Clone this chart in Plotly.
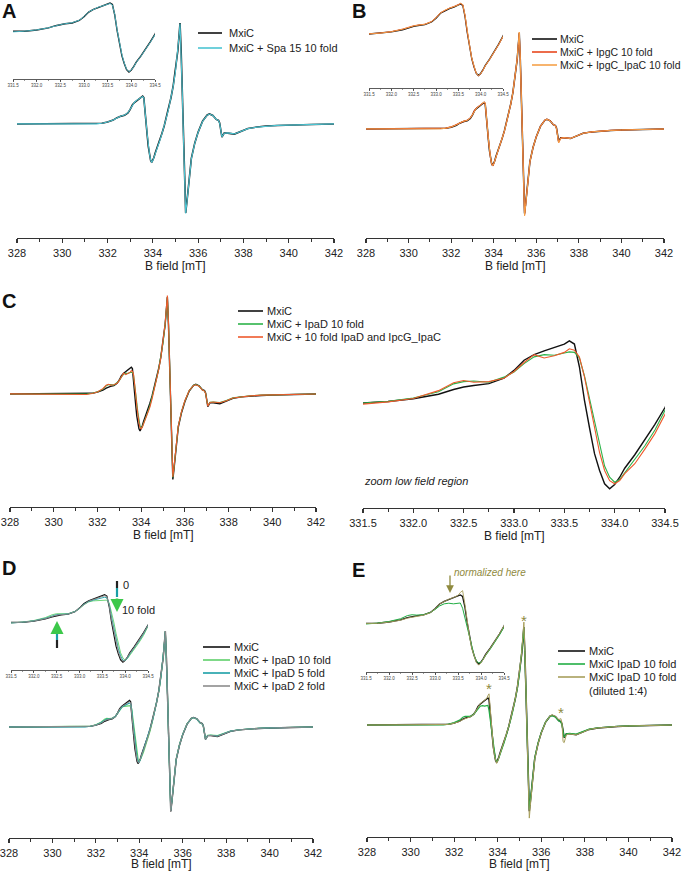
import plotly.graph_objects as go

W, H = 683, 872
FONT = "Liberation Sans, Arial, sans-serif"

# ---------------- data (normalised EPR derivative intensity) ----------------
b_field = [328.0, 329.0, 330.0, 330.5, 331.0,
           331.5, 331.75, 332.0, 332.25, 332.4, 332.5, 332.6, 332.75, 332.9, 333.0, 333.1, 333.2, 333.3, 333.4, 333.5,
           333.55, 333.6, 333.65, 333.7, 333.75, 333.8, 333.85, 333.9, 333.95, 334.0, 334.05, 334.1, 334.2, 334.3, 334.4, 334.5,
           334.6, 334.7, 334.8, 334.9, 335.0, 335.1, 335.15, 335.2, 335.25, 335.3, 335.35, 335.4, 335.45, 335.5, 335.6, 335.7, 335.85, 336.0, 336.2, 336.4, 336.5,
           336.65, 336.8, 336.9, 336.95, 337.0, 337.05, 337.15, 337.3, 337.6, 337.9, 338.2, 338.6, 339.0, 339.5, 340.0, 341.0, 342.0]

mxic = [0.0, 0.002, 0.0, 0.001, 0.002,
        0.0, 0.007, 0.019, 0.039, 0.060, 0.071, 0.078, 0.086, 0.110, 0.145, 0.190, 0.215, 0.232, 0.246, 0.262,
        0.276, 0.262, 0.160, 0.012, -0.110, -0.225, -0.300, -0.359, -0.381, -0.362, -0.330, -0.290, -0.230, -0.165, -0.095, -0.020,
        0.070, 0.160, 0.260, 0.380, 0.530, 0.720, 0.860, 1.000, 0.720, 0.330, -0.120, -0.580, -0.880, -0.780, -0.520, -0.340, -0.190, -0.080, 0.030, 0.090, 0.100,
        0.085, 0.045, 0.035, 0.010, -0.090, -0.130, -0.090, -0.090, -0.100, -0.075, -0.045, -0.030, -0.020, -0.015, -0.010, -0.005, 0.0]

# A
spa15_10 = [0.001, 0.0, 0.002, 0.0, 0.001,
            0.001, 0.008, 0.020, 0.040, 0.061, 0.070, 0.079, 0.088, 0.112, 0.147, 0.192, 0.218, 0.236, 0.250, 0.265,
            0.272, 0.258, 0.165, 0.020, -0.100, -0.215, -0.295, -0.355, -0.378, -0.362, -0.332, -0.292, -0.232, -0.168, -0.098, -0.025,
            0.065, 0.155, 0.255, 0.375, 0.525, 0.715, 0.855, 0.995, 0.715, 0.325, -0.125, -0.585, -0.885, -0.785, -0.525, -0.345, -0.192, -0.082, 0.028, 0.088, 0.098,
            0.084, 0.046, 0.034, 0.008, -0.092, -0.128, -0.092, -0.088, -0.098, -0.074, -0.046, -0.031, -0.021, -0.014, -0.011, -0.004, 0.001]

# B
ipgc_10 = [0.0, 0.001, 0.002, 0.0, 0.001,
           0.002, 0.009, 0.022, 0.045, 0.066, 0.076, 0.082, 0.090, 0.115, 0.150, 0.195, 0.220, 0.238, 0.252, 0.268,
           0.280, 0.268, 0.170, 0.020, -0.105, -0.222, -0.300, -0.360, -0.384, -0.366, -0.334, -0.294, -0.234, -0.170, -0.100, -0.024,
           0.066, 0.158, 0.258, 0.378, 0.530, 0.722, 0.865, 1.005, 0.725, 0.330, -0.125, -0.590, -0.895, -0.790, -0.525, -0.342, -0.190, -0.080, 0.030, 0.092, 0.102,
           0.086, 0.046, 0.036, 0.005, -0.100, -0.142, -0.095, -0.090, -0.098, -0.073, -0.044, -0.030, -0.020, -0.014, -0.010, -0.004, 0.0]
ipgc_ipac_10 = [0.001, 0.0, 0.001, 0.002, 0.0,
                0.001, 0.008, 0.021, 0.043, 0.064, 0.074, 0.081, 0.089, 0.113, 0.148, 0.193, 0.219, 0.236, 0.251, 0.266,
                0.282, 0.270, 0.172, 0.022, -0.102, -0.220, -0.298, -0.358, -0.382, -0.365, -0.333, -0.293, -0.233, -0.169, -0.099, -0.023,
                0.067, 0.159, 0.259, 0.379, 0.532, 0.725, 0.868, 1.010, 0.728, 0.332, -0.126, -0.595, -0.905, -0.795, -0.528, -0.343, -0.191, -0.081, 0.029, 0.091, 0.101,
                0.085, 0.045, 0.035, 0.004, -0.102, -0.145, -0.096, -0.090, -0.099, -0.074, -0.045, -0.030, -0.020, -0.015, -0.010, -0.005, 0.0]

# C
ipad_10 = [0.0, 0.001, 0.0, 0.002, 0.001,
           0.0, 0.008, 0.022, 0.050, 0.085, 0.095, 0.098, 0.092, 0.115, 0.138, 0.175, 0.205, 0.215, 0.212, 0.222,
           0.227, 0.225, 0.200, 0.120, 0.020, -0.090, -0.190, -0.280, -0.330, -0.352, -0.340, -0.310, -0.255, -0.190, -0.120, -0.035,
           0.055, 0.150, 0.255, 0.375, 0.525, 0.720, 0.865, 1.000, 0.730, 0.345, -0.100, -0.560, -0.860, -0.765, -0.510, -0.330, -0.180, -0.072, 0.035, 0.090, 0.097,
           0.082, 0.042, 0.030, 0.008, -0.085, -0.122, -0.085, -0.082, -0.088, -0.068, -0.040, -0.028, -0.018, -0.012, -0.008, -0.004, 0.0]
ipad_ipgc_ipac_10 = [0.001, 0.0, 0.002, 0.0, 0.001,
                     -0.005, 0.005, 0.020, 0.055, 0.090, 0.100, 0.092, 0.095, 0.110, 0.140, 0.180, 0.215, 0.200, 0.210, 0.225,
                     0.241, 0.235, 0.204, 0.116, 0.000, -0.120, -0.220, -0.300, -0.345, -0.359, -0.345, -0.314, -0.270, -0.205, -0.136, -0.050,
                     0.045, 0.140, 0.248, 0.372, 0.528, 0.728, 0.875, 1.015, 0.740, 0.350, -0.095, -0.555, -0.855, -0.760, -0.505, -0.328, -0.178, -0.070, 0.036, 0.088, 0.095,
                     0.080, 0.040, 0.030, 0.006, -0.088, -0.125, -0.088, -0.083, -0.090, -0.070, -0.042, -0.028, -0.019, -0.012, -0.009, -0.004, 0.0]

# D
d_ipad_10 = [0.0, 0.002, 0.001, 0.0, 0.002,
             0.001, 0.009, 0.024, 0.052, 0.080, 0.090, 0.088, 0.090, 0.112, 0.140, 0.178, 0.205, 0.215, 0.218, 0.224,
             0.226, 0.222, 0.195, 0.110, 0.010, -0.100, -0.200, -0.290, -0.340, -0.362, -0.345, -0.315, -0.258, -0.192, -0.122, -0.040,
             0.052, 0.148, 0.252, 0.372, 0.522, 0.715, 0.860, 0.995, 0.725, 0.342, -0.105, -0.565, -0.865, -0.768, -0.512, -0.332, -0.182, -0.074, 0.034, 0.089, 0.096,
             0.081, 0.042, 0.030, 0.006, -0.086, -0.124, -0.086, -0.083, -0.089, -0.069, -0.041, -0.028, -0.018, -0.013, -0.008, -0.004, 0.0]
d_ipad_5 = [0.001, 0.0, 0.001, 0.002, 0.0,
            0.0, 0.008, 0.021, 0.046, 0.072, 0.082, 0.084, 0.088, 0.111, 0.142, 0.183, 0.208, 0.222, 0.232, 0.242,
            0.250, 0.244, 0.182, 0.060, -0.050, -0.165, -0.250, -0.320, -0.362, -0.365, -0.340, -0.303, -0.243, -0.178, -0.108, -0.030,
            0.060, 0.153, 0.256, 0.377, 0.527, 0.718, 0.860, 0.998, 0.722, 0.336, -0.112, -0.572, -0.872, -0.773, -0.516, -0.336, -0.186, -0.077, 0.032, 0.089, 0.098,
            0.083, 0.043, 0.032, 0.008, -0.088, -0.127, -0.088, -0.086, -0.094, -0.072, -0.043, -0.029, -0.019, -0.014, -0.009, -0.005, 0.0]
d_ipad_2 = [0.0, 0.001, 0.0, 0.001, 0.002,
            0.0, 0.008, 0.020, 0.042, 0.066, 0.077, 0.081, 0.087, 0.110, 0.144, 0.187, 0.212, 0.228, 0.240, 0.254,
            0.265, 0.254, 0.172, 0.035, -0.080, -0.195, -0.275, -0.340, -0.372, -0.363, -0.335, -0.296, -0.236, -0.171, -0.101, -0.025,
            0.065, 0.157, 0.258, 0.379, 0.529, 0.719, 0.860, 0.999, 0.721, 0.333, -0.116, -0.576, -0.876, -0.777, -0.518, -0.338, -0.188, -0.079, 0.031, 0.090, 0.099,
            0.084, 0.044, 0.033, 0.009, -0.089, -0.128, -0.089, -0.088, -0.097, -0.073, -0.044, -0.030, -0.020, -0.014, -0.010, -0.005, 0.0]

# E
e_ipad_10 = [0.0, 0.001, 0.002, 0.0, 0.001,
             0.0, 0.009, 0.024, 0.050, 0.080, 0.088, 0.085, 0.088, 0.110, 0.138, 0.172, 0.192, 0.198, 0.192, 0.198,
             0.200, 0.150, 0.060, -0.040, -0.140, -0.230, -0.300, -0.350, -0.372, -0.366, -0.338, -0.300, -0.240, -0.176, -0.106, -0.030,
             0.058, 0.150, 0.252, 0.372, 0.525, 0.718, 0.862, 0.995, 0.718, 0.330, -0.115, -0.570, -0.865, -0.770, -0.515, -0.335, -0.185, -0.075, 0.032, 0.088, 0.096,
             0.080, 0.042, 0.028, 0.002, -0.090, -0.125, -0.090, -0.086, -0.092, -0.070, -0.042, -0.028, -0.019, -0.013, -0.009, -0.004, 0.0]
e_ipad_10_dil = [0.0, 0.0, 0.001, 0.001, 0.0,
                 0.0, 0.006, 0.018, 0.036, 0.056, 0.066, 0.074, 0.084, 0.108, 0.144, 0.192, 0.218, 0.236, 0.252, 0.272,
                 0.300, 0.318, 0.190, 0.010, -0.120, -0.235, -0.312, -0.368, -0.392, -0.370, -0.336, -0.294, -0.232, -0.166, -0.094, -0.018,
                 0.072, 0.162, 0.262, 0.384, 0.540, 0.740, 0.890, 1.050, 0.750, 0.330, -0.140, -0.620, -0.950, -0.820, -0.540, -0.350, -0.195, -0.082, 0.030, 0.092, 0.104,
                 0.090, 0.055, 0.065, 0.020, -0.170, -0.180, -0.100, -0.092, -0.100, -0.075, -0.045, -0.030, -0.020, -0.015, -0.010, -0.005, 0.0]

star_b = [333.6, 335.2, 336.9]
star_val = [0.40, 1.10, 0.16]

main_ticks = [328, 330, 332, 334, 336, 338, 340, 342]
zoom_ticks = [331.5, 332.0, 332.5, 333.0, 333.5, 334.0, 334.5]

# colours
BLACK = "#111111"
CYAN = "#4cc4d2"
RED = "#e8471e"
ORANGE = "#f6a24a"
GREEN = "#2cb34a"
RED_C = "#ee5a2c"
LGREEN = "#5fd06a"
TEAL = "#1a9fa6"
GRAY = "#8c8c8c"
EGREEN = "#22ae44"
OLIVE = "#a89f5c"
OLIVE_T = "#8f8a3e"

panels = {
    "A": [("MxiC", mxic, BLACK, 1.6), ("MxiC + Spa 15 10 fold", spa15_10, CYAN, 1.1)],
    "B": [("MxiC", mxic, BLACK, 1.5), ("MxiC + IpgC 10 fold", ipgc_10, RED, 1.1),
          ("MxiC + IpgC_IpaC 10 fold", ipgc_ipac_10, ORANGE, 1.0)],
    "C": [("MxiC", mxic, BLACK, 1.4), ("MxiC + IpaD 10 fold", ipad_10, GREEN, 1.1),
          ("MxiC + 10 fold IpaD and IpcG_IpaC", ipad_ipgc_ipac_10, RED_C, 1.1)],
    "D": [("MxiC", mxic, BLACK, 1.4), ("MxiC + IpaD 10 fold", d_ipad_10, LGREEN, 1.1),
          ("MxiC + IpaD 5 fold", d_ipad_5, TEAL, 1.1), ("MxiC + IpaD 2 fold", d_ipad_2, GRAY, 1.0)],
    "E": [("MxiC", mxic, BLACK, 1.5), ("MxiC IpaD 10 fold", e_ipad_10, EGREEN, 1.2),
          ("MxiC IpaD 10 fold<br>(diluted 1:4)", e_ipad_10_dil, OLIVE, 1.0)],
}

# ---------------- geometry (pixel positions) ----------------
# (axis number, x px lo, x px hi, x range, axis-line py, top py, zero py, px per unit, kind)
axes_spec = {
    "A_main": (1, 17, 334, [328, 342], 238, 0, 124, 101, "main"),
    "A_ins": (2, 13, 155, [331.5, 334.5], 79, 0, 32, 105, "inset"),
    "B_main": (3, 366, 664, [328, 342], 238, 0, 129, 96, "main"),
    "B_ins": (4, 369, 503, [331.5, 334.5], 88, 0, 34, 109, "inset"),
    "C_main": (5, 10, 316, [328, 342], 507, 290, 394, 97, "main"),
    "C_zoom": (6, 363, 665, [331.5, 334.5], 508, 290, 403, 225, "zoom"),
    "D_main": (7, 9, 313, [328, 342], 838, 580, 727, 96, "main"),
    "D_ins": (8, 11, 148, [331.5, 334.5], 670, 572, 623, 103, "inset"),
    "E_main": (9, 367, 672, [328, 342], 837, 580, 725, 98, "main"),
    "E_ins": (10, 366, 504, [331.5, 334.5], 672, 572, 624, 105, "inset"),
}


def px(p):
    return p / W


def py(p):
    return 1 - p / H


fig = go.Figure()
layout = dict(template="none", width=W, height=H, margin=dict(l=0, r=0, t=0, b=0, pad=0, autoexpand=False),
              paper_bgcolor="white", plot_bgcolor="rgba(0,0,0,0)",
              showlegend=False, font=dict(family=FONT, color="#222222"))

annotations = []
shapes = []

for key, (n, x0, x1, xr, pya, pyt, pyz, pxu, kind) in axes_spec.items():
    sx = "" if n == 1 else str(n)
    if kind == "main":
        tick = dict(tickvals=main_ticks, tickfont=dict(size=11, color="#222"), ticklen=4, tickwidth=1.2,
                    linewidth=1.3, minor=dict(dtick=1, tick0=328, ticks="outside", ticklen=2.5,
                                              tickwidth=1, tickcolor="#333"))
    elif kind == "zoom":
        tick = dict(tickvals=zoom_ticks, tickformat=".1f", tickfont=dict(size=11, color="#222"), ticklen=4,
                    tickwidth=1.2, linewidth=1.3,
                    minor=dict(dtick=0.25, tick0=331.5, ticks="outside", ticklen=2.5, tickwidth=1, tickcolor="#333"))
    else:
        tick = dict(tickvals=zoom_ticks, tickformat=".1f", tickfont=dict(size=4.5, color="#444"), ticklen=2,
                    tickwidth=0.8, linewidth=0.8,
                    minor=dict(dtick=0.25, tick0=331.5, ticks="outside", ticklen=1.2, tickwidth=0.6, tickcolor="#555"))
    layout["xaxis" + sx] = dict(domain=[px(x0), px(x1)], range=xr, anchor="y" + sx, showline=True,
                                linecolor="#333", ticks="outside", tickcolor="#333", showgrid=False,
                                zeroline=False, fixedrange=True, automargin=False,
                                ticklabeloverflow="allow", **tick)
    layout["yaxis" + sx] = dict(domain=[py(pya), py(pyt)], anchor="x" + sx,
                                range=[(pyz - pya) / pxu, (pyz - pyt) / pxu],
                                visible=False, fixedrange=True, automargin=False)
    panel = key[0]
    for name, vals, color, w in panels[panel]:
        lw = w if kind != "inset" else max(0.9, w - 0.2)
        fig.add_trace(go.Scatter(x=b_field, y=vals, mode="lines", name=name.replace("<br>", " "),
                                 line=dict(color=color, width=lw), xaxis="x" + sx, yaxis="y" + sx,
                                 hoverinfo="skip"))
    if kind in ("main", "zoom"):
        annotations.append(dict(text="B field [mT]", x=px((x0 + x1) / 2), y=py(min(pya + 28, 864)), xref="paper",
                                yref="paper", showarrow=False, font=dict(size=12, color="#222"),
                                xanchor="center", yanchor="middle"))

# panel letters
for letter, (lx, ly) in {"A": (0, 11), "B": (350, 11), "C": (0, 301), "D": (0, 568), "E": (350, 570)}.items():
    annotations.append(dict(text="<b>%s</b>" % letter, x=px(lx), y=py(ly), xref="paper", yref="paper",
                            showarrow=False, font=dict(size=20, color="#111"), xanchor="left", yanchor="middle"))

# custom legends: (line x0, line x1, text x, row y's, font size)
legend_geo = {
    "A": (198, 222, 228, [33, 48], 11),
    "B": (532, 557, 559, [39, 52, 65], 10.5),
    "C": (238, 263, 266, [311, 324, 337], 11),
    "D": (203, 230, 233, [647, 660, 673, 686], 11),
    "E": (558, 585, 588, [651, 664, 677], 11),
}
for panel, (l0, l1, lt, rows, fs) in legend_geo.items():
    for (name, vals, color, w), r in zip(panels[panel], rows):
        shapes.append(dict(type="line", xref="paper", yref="paper", x0=px(l0), x1=px(l1), y0=py(r), y1=py(r),
                           line=dict(color=color, width=1.6)))
        annotations.append(dict(text=name, x=px(lt), y=py(r - 7.5), xref="paper", yref="paper", showarrow=False,
                                font=dict(size=fs, color="#222"), xanchor="left", yanchor="top", align="left",
                                borderpad=0))

# C zoom caption
annotations.append(dict(text="<i>zoom low field region</i>", x=px(362), y=py(481), xref="paper", yref="paper",
                        showarrow=False, font=dict(size=11, color="#222"), xanchor="left", yanchor="middle"))

# D arrows
shapes += [
    dict(type="line", xref="paper", yref="paper", x0=px(57), x1=px(57), y0=py(648), y1=py(640),
         line=dict(color="#222", width=2.2)),
    dict(type="line", xref="paper", yref="paper", x0=px(57), x1=px(57), y0=py(640), y1=py(631),
         line=dict(color=TEAL, width=2.2)),
    dict(type="line", xref="paper", yref="paper", x0=px(117), x1=px(117), y0=py(581), y1=py(588),
         line=dict(color="#222", width=2.2)),
    dict(type="line", xref="paper", yref="paper", x0=px(117), x1=px(117), y0=py(588), y1=py(597),
         line=dict(color=TEAL, width=2.2)),
]
annotations.append(dict(x=px(57), y=py(621), xref="paper", yref="paper", ax=0, ay=11, text="", showarrow=True,
                        arrowhead=2, arrowsize=1, arrowwidth=2.6, arrowcolor="#3cc84a"))
annotations.append(dict(x=px(117), y=py(612), xref="paper", yref="paper", ax=0, ay=-15, text="", showarrow=True,
                        arrowhead=2, arrowsize=1, arrowwidth=2.6, arrowcolor="#3cc84a"))
annotations.append(dict(text="0", x=px(121), y=py(585), xref="paper", yref="paper", showarrow=False,
                        font=dict(size=11, color="#222"), xanchor="left", yanchor="middle"))
annotations.append(dict(text="10 fold", x=px(120), y=py(610), xref="paper", yref="paper", showarrow=False,
                        font=dict(size=11, color="#222"), xanchor="left", yanchor="middle"))

# E annotations
annotations.append(dict(x=px(450), y=py(593), xref="paper", yref="paper", ax=0, ay=-19, text="", showarrow=True,
                        arrowhead=2, arrowsize=1.2, arrowwidth=1.3, arrowcolor=OLIVE_T))
annotations.append(dict(text="<i>normalized here</i>", x=px(452), y=py(572), xref="paper", yref="paper",
                        showarrow=False, font=dict(size=10, color=OLIVE_T), xanchor="left", yanchor="middle"))
for sb, sv in zip(star_b, star_val):
    annotations.append(dict(text="*", x=sb, y=sv, xref="x9", yref="y9", showarrow=False, yshift=-3,
                            font=dict(size=15, color=OLIVE_T), xanchor="center", yanchor="middle"))

layout["annotations"] = annotations
layout["shapes"] = shapes
fig.update_layout(**layout)
fig.write_html("out.html", config={"displayModeBar": False, "staticPlot": True},
               post_script="document.body.style.margin='0';document.body.style.padding='0';"
                           "document.documentElement.style.overflow='hidden';")
